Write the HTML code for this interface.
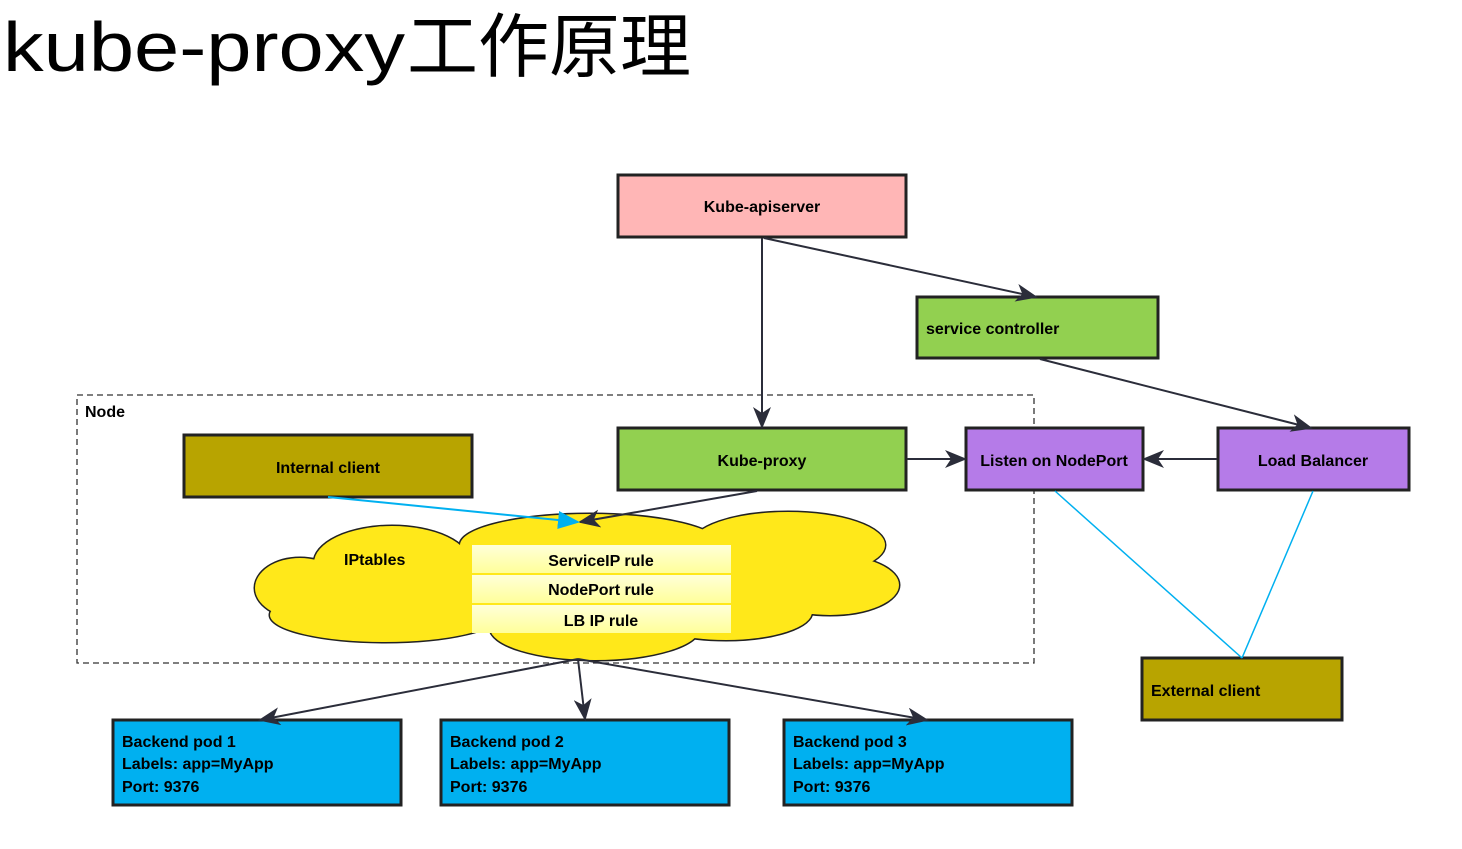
<!DOCTYPE html>
<html><head><meta charset="utf-8"><style>
html,body{margin:0;padding:0;background:#fff;}
svg{display:block;}
text{font-family:"Liberation Sans","Noto Sans CJK SC",sans-serif;}
.b{font-weight:bold;font-size:16px;fill:#000;}
</style></head><body>
<svg width="1462" height="849" viewBox="0 0 1462 849" xmlns="http://www.w3.org/2000/svg">
<defs>
<marker id="ah" markerWidth="22" markerHeight="18" refX="20" refY="9" orient="auto" markerUnits="userSpaceOnUse">
<path d="M0,0 L22,9 L0,18 L6,9 z" fill="#2b2d3a"/></marker>
<marker id="ac" markerWidth="22" markerHeight="18" refX="20" refY="9" orient="auto" markerUnits="userSpaceOnUse">
<path d="M0,0 L22,9 L0,18 z" fill="#00b0f0"/></marker>
<linearGradient id="rg" x1="0" y1="0" x2="0" y2="1"><stop offset="0" stop-color="#ffffd8"/><stop offset="1" stop-color="#ffff9a"/></linearGradient>
</defs>
<text x="3" y="71" font-size="70" textLength="402" lengthAdjust="spacingAndGlyphs">kube-proxy</text>
<text x="407" y="71" font-size="70" textLength="284" lengthAdjust="spacingAndGlyphs">工作原理</text>

<rect x="77" y="395" width="957" height="268" fill="none" stroke="#333" stroke-width="1.3" stroke-dasharray="6,4"/>
<text x="85" y="417" class="b">Node</text>

<g stroke="#222" stroke-width="3">
<ellipse cx="385" cy="615" rx="115" ry="27"/>
<ellipse cx="300" cy="588" rx="45" ry="30"/>
<ellipse cx="392" cy="563" rx="78" ry="37"/>
<ellipse cx="590" cy="545" rx="130" ry="31"/>
<ellipse cx="788" cy="545" rx="97" ry="33"/>
<ellipse cx="830" cy="585" rx="69" ry="30"/>
<ellipse cx="726" cy="612" rx="86" ry="28"/>
<ellipse cx="595" cy="628" rx="105" ry="32"/>
<ellipse cx="580" cy="590" rx="250" ry="40"/>
</g>
<g fill="#ffe81a">
<ellipse cx="385" cy="615" rx="115" ry="27"/>
<ellipse cx="300" cy="588" rx="45" ry="30"/>
<ellipse cx="392" cy="563" rx="78" ry="37"/>
<ellipse cx="590" cy="545" rx="130" ry="31"/>
<ellipse cx="788" cy="545" rx="97" ry="33"/>
<ellipse cx="830" cy="585" rx="69" ry="30"/>
<ellipse cx="726" cy="612" rx="86" ry="28"/>
<ellipse cx="595" cy="628" rx="105" ry="32"/>
<ellipse cx="580" cy="590" rx="250" ry="40"/>
</g>
<text x="344" y="565" class="b">IPtables</text>
<rect x="472" y="545" width="259" height="28" fill="url(#rg)"/>
<rect x="472" y="575" width="259" height="28" fill="url(#rg)"/>
<rect x="472" y="605" width="259" height="28" fill="url(#rg)"/>
<text x="601" y="566" class="b" text-anchor="middle">ServiceIP rule</text>
<text x="601" y="595" class="b" text-anchor="middle">NodePort rule</text>
<text x="601" y="626" class="b" text-anchor="middle">LB IP rule</text>

<g stroke="#222" stroke-width="3">
<rect x="618" y="175" width="288" height="62" fill="#ffb6b6"/>
<rect x="917" y="297" width="241" height="61" fill="#92d050"/>
<rect x="618" y="428" width="288" height="62" fill="#92d050"/>
<rect x="966" y="428" width="177" height="62" fill="#b57be8"/>
<rect x="1218" y="428" width="191" height="62" fill="#b57be8"/>
<rect x="184" y="435" width="288" height="62" fill="#b8a400"/>
<rect x="1142" y="658" width="200" height="62" fill="#b8a400"/>
<rect x="113" y="720" width="288" height="85" fill="#00b0f0"/>
<rect x="441" y="720" width="288" height="85" fill="#00b0f0"/>
<rect x="784" y="720" width="288" height="85" fill="#00b0f0"/>
</g>
<text x="762" y="212" class="b" text-anchor="middle">Kube-apiserver</text>
<text x="926" y="334" class="b">service controller</text>
<text x="762" y="466" class="b" text-anchor="middle">Kube-proxy</text>
<text x="1054" y="466" class="b" text-anchor="middle">Listen on NodePort</text>
<text x="1313" y="466" class="b" text-anchor="middle">Load Balancer</text>
<text x="328" y="473" class="b" text-anchor="middle">Internal client</text>
<text x="1151" y="696" class="b">External client</text>
<text x="122" y="747" class="b">Backend pod 1</text><text x="122" y="769" class="b">Labels: app=MyApp</text><text x="122" y="792" class="b">Port: 9376</text>
<text x="450" y="747" class="b">Backend pod 2</text><text x="450" y="769" class="b">Labels: app=MyApp</text><text x="450" y="792" class="b">Port: 9376</text>
<text x="793" y="747" class="b">Backend pod 3</text><text x="793" y="769" class="b">Labels: app=MyApp</text><text x="793" y="792" class="b">Port: 9376</text>

<g stroke="#2b2d3a" stroke-width="2" fill="none" marker-end="url(#ah)">
<line x1="762" y1="238" x2="762" y2="427"/>
<line x1="764" y1="238" x2="1036" y2="297"/>
<line x1="1040" y1="359" x2="1311" y2="428"/>
<line x1="907" y1="459" x2="965" y2="459"/>
<line x1="1217" y1="459" x2="1144" y2="459"/>
<line x1="757" y1="491" x2="580" y2="522"/>
<line x1="578" y1="659" x2="260" y2="720"/>
<line x1="578" y1="659" x2="585" y2="719"/>
<line x1="578" y1="659" x2="927" y2="720"/>
</g>
<line x1="328" y1="497" x2="578" y2="522" stroke="#00b0f0" stroke-width="2" marker-end="url(#ac)"/>
<line x1="1055" y1="491" x2="1242" y2="658" stroke="#00b0f0" stroke-width="1.5"/>
<line x1="1313" y1="491" x2="1242" y2="658" stroke="#00b0f0" stroke-width="1.5"/>
</svg>
</body></html>
